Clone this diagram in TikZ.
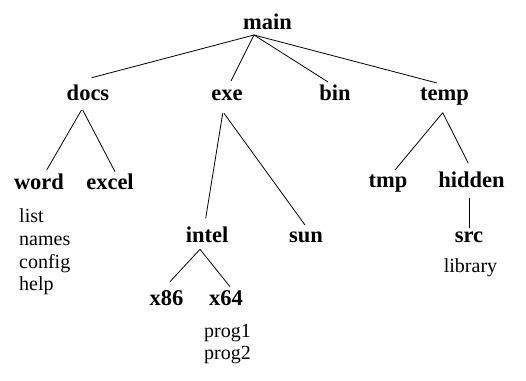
\documentclass[tikz,border=0pt]{standalone}
\usepackage{fontspec}
\setmainfont{Liberation Serif}
\begin{document}
\begin{tikzpicture}[x=1pt,y=-1pt,
  dir/.style={font=\fontsize{22.5}{26}\selectfont\bfseries,inner sep=0pt,anchor=base},
  fil/.style={font=\fontsize{20}{23}\selectfont,inner sep=0pt,anchor=base west},
  edge/.style={line width=0.8pt}]
\useasboundingbox (0,0) rectangle (526,380);
% directory nodes
\node[dir] (main) at (267.5,29) {main};
\node[dir] (docs) at (88,100) {docs};
\node[dir] (exe) at (227,100) {exe};
\node[dir] (bin) at (335,100) {bin};
\node[dir] (temp) at (444.5,100) {temp};
\node[dir] (word) at (39,189) {word};
\node[dir] (excel) at (110,189) {excel};
\node[dir] (tmp) at (388,187) {tmp};
\node[dir] (hidden) at (471.5,187) {hidden};
\node[dir] (intel) at (207,242) {intel};
\node[dir] (sun) at (306,242) {sun};
\node[dir] (src) at (469,242) {src};
\node[dir] (x86) at (166.5,305) {x86};
\node[dir] (x64) at (226,305) {x64};
% file lists
\node[fil] (list) at (19,222) {list};
\node[fil] (names) at (19,245) {names};
\node[fil] (config) at (19,268) {config};
\node[fil] (help) at (19,290.5) {help};
\node[fil] (prog1) at (204,337) {prog1};
\node[fil] (prog2) at (204,359.5) {prog2};
\node[fil,anchor=base] (library) at (470.5,272) {library};
% connector ends
\coordinate (mainS) at ([shift={(-13.5,6)}]main.base);
\coordinate (docsN) at ([shift={(3.7,-22.3)}]docs.base);
\coordinate (exeN) at ([shift={(4,-19)}]exe.base);
\coordinate (binN) at ([shift={(-7,-18)}]bin.base);
\coordinate (tempN) at ([shift={(-7.5,-17)}]temp.base);
\coordinate (docsS) at ([shift={(-6.5,10)}]docs.base);
\coordinate (docsS2) at ([shift={(-5.3,10)}]docs.base);
\coordinate (wordN) at ([shift={(7.7,-19)}]word.base);
\coordinate (excelN) at ([shift={(5,-17.3)}]excel.base);
\coordinate (exeS) at ([shift={(-4.3,13.3)}]exe.base);
\coordinate (exeS2) at ([shift={(-3,13.3)}]exe.base);
\coordinate (intelN) at ([shift={(-1.3,-23.7)}]intel.base);
\coordinate (sunN) at ([shift={(-1,-17)}]sun.base);
\coordinate (tempS) at ([shift={(-1.8,12.7)}]temp.base);
\coordinate (tmpN) at ([shift={(7,-17)}]tmp.base);
\coordinate (hiddenN) at ([shift={(-3.2,-23.7)}]hidden.base);
\coordinate (hiddenS) at ([shift={(-2.2,11.3)}]hidden.base);
\coordinate (srcN) at ([shift={(0.3,-13.7)}]src.base);
\coordinate (intelS) at ([shift={(-7,7.3)}]intel.base);
\coordinate (x86N) at ([shift={(3.5,-23.3)}]x86.base);
\coordinate (x64N) at ([shift={(4,-18.3)}]x64.base);
% connectors
\draw[edge] (mainS) -- (docsN);
\draw[edge] (mainS) -- (exeN);
\draw[edge] (mainS) -- (binN);
\draw[edge] (mainS) -- (tempN);
\draw[edge] (docsS) -- (wordN);
\draw[edge] (docsS2) -- (excelN);
\draw[edge] (exeS) -- (intelN);
\draw[edge] (exeS2) -- (sunN);
\draw[edge] (tempS) -- (tmpN);
\draw[edge] (tempS) -- (hiddenN);
\draw[edge] (hiddenS) -- (srcN);
\draw[edge] (intelS) -- (x86N);
\draw[edge] (intelS) -- (x64N);
\end{tikzpicture}
\end{document}
